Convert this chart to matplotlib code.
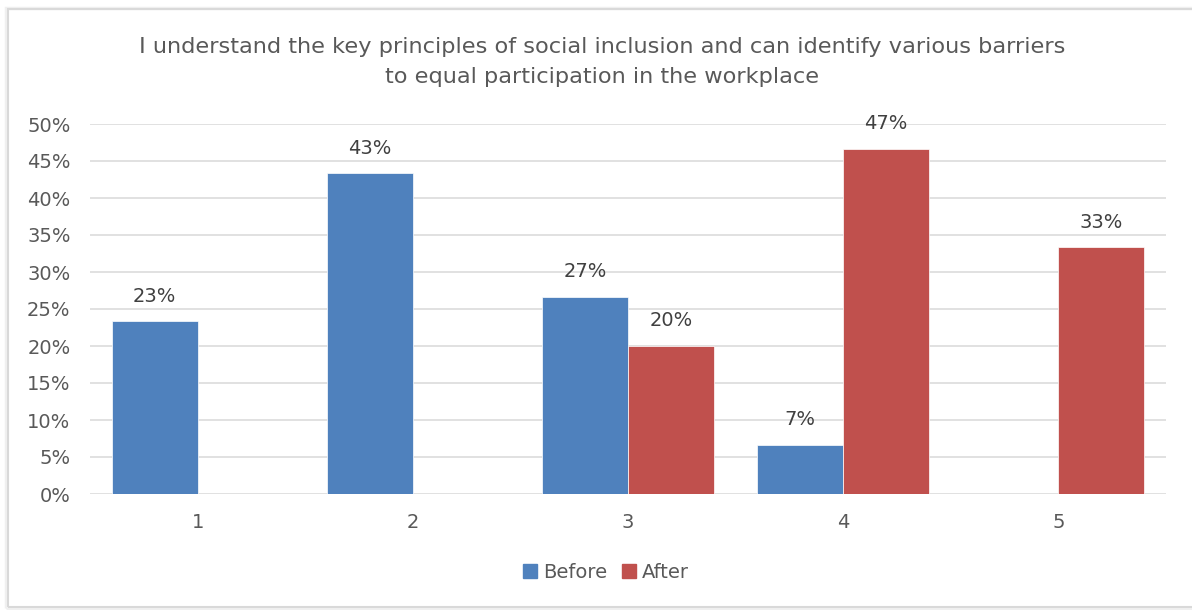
import numpy as np
import matplotlib.pyplot as plt
from matplotlib.patches import Rectangle

# Survey responses (share of 30 respondents per rating)
ratings = ['1', '2', '3', '4', '5']
before = [7 / 30, 13 / 30, 8 / 30, 2 / 30, 0]
after = [0, 0, 6 / 30, 14 / 30, 10 / 30]
y_ticks = [0, 0.05, 0.10, 0.15, 0.20, 0.25, 0.30, 0.35, 0.40, 0.45, 0.50]

title = ('I understand the key principles of social inclusion and can identify various barriers\n'
         'to equal participation in the workplace')

blue = '#4F81BD'
red = '#C0504D'
grid_col = '#D9D9D9'
text_col = '#595959'
label_col = '#404040'

plt.rcParams['font.family'] = ['DejaVu Sans']

fig = plt.figure(figsize=(11.92, 6.10), dpi=100)
ax = fig.add_axes([90 / 1192, (610 - 494) / 610, (1166 - 90) / 1192, (494 - 124) / 610])

# chart frame with a soft shadow on the left
fig.patches.append(Rectangle((6 / 1192, 2 / 610), 1200 / 1192, 600 / 610, transform=fig.transFigure,
                             fill=False, edgecolor='#F0F0F0', linewidth=2.5, zorder=0))
fig.patches.append(Rectangle((8 / 1192, 3 / 610), 1200 / 1192, 598 / 610, transform=fig.transFigure,
                             fill=False, edgecolor=grid_col, linewidth=1.5, zorder=0))

x = np.arange(1, len(ratings) + 1)
w = 0.4
b1 = ax.bar(x - w / 2, before, w, color=blue, edgecolor='white', linewidth=0.5, label='Before', zorder=3)
b2 = ax.bar(x + w / 2, after, w, color=red, edgecolor='white', linewidth=0.5, label='After', zorder=3)

for bars, vals in ((b1, before), (b2, after)):
    for rect, v in zip(bars, vals):
        if v == 0:
            continue
        ax.annotate(f'{v * 100:.0f}%', (rect.get_x() + rect.get_width() / 2, v),
                    xytext=(0, 18), textcoords='offset points', ha='center', va='center',
                    fontsize=14, color=label_col)

ax.set_xlim(0.5, 5.5)
ax.set_ylim(0, 0.5)
ax.set_xticks(x)
ax.set_xticklabels(ratings)
ax.set_yticks(y_ticks)
ax.set_yticklabels([f'{t * 100:.0f}%' for t in y_ticks])
ax.tick_params(axis='both', length=0, labelsize=14, labelcolor=text_col)
ax.tick_params(axis='y', pad=14)
ax.tick_params(axis='x', pad=14)
ax.grid(axis='y', color=grid_col, linewidth=1.1, zorder=0)
ax.set_axisbelow(True)
for s in ax.spines.values():
    s.set_visible(False)

fig.text(602 / 1192, 1 - 62 / 610, title, ha='center', va='center', fontsize=16.2,
         color=text_col, linespacing=1.65)

handles = [Rectangle((0, 0), 1, 1, color=blue), Rectangle((0, 0), 1, 1, color=red)]
fig.legend(handles, ['Before', 'After'], loc='center', bbox_to_anchor=(606 / 1192, 1 - 572 / 610),
           ncol=2, frameon=False, fontsize=14, handlelength=0.7, handleheight=0.7,
           handletextpad=0.3, columnspacing=0.8, labelcolor=text_col)

fig.savefig('out.png', dpi=100)
